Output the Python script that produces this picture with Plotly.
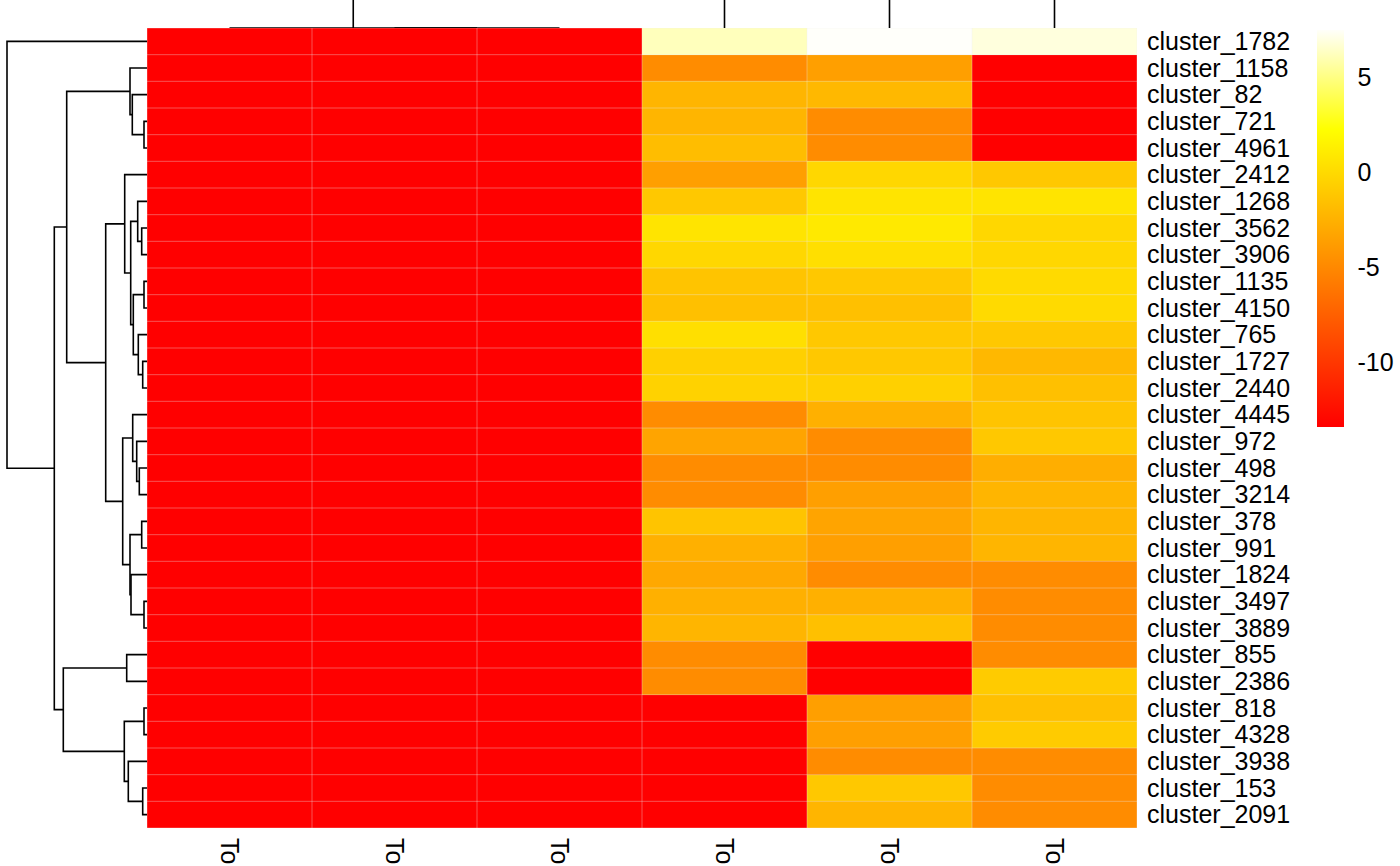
import plotly.graph_objects as go

# ---------------- data ----------------
row_labels = ["cluster_1782", "cluster_1158", "cluster_82", "cluster_721", "cluster_4961",
              "cluster_2412", "cluster_1268", "cluster_3562", "cluster_3906", "cluster_1135",
              "cluster_4150", "cluster_765", "cluster_1727", "cluster_2440", "cluster_4445",
              "cluster_972", "cluster_498", "cluster_3214", "cluster_378", "cluster_991",
              "cluster_1824", "cluster_3497", "cluster_3889", "cluster_855", "cluster_2386",
              "cluster_818", "cluster_4328", "cluster_3938", "cluster_153", "cluster_2091"]
col_labels = ["To", "To", "To", "To", "To", "To"]

LOW = -13.4
sample_1 = [LOW] * 30
sample_2 = [LOW] * 30
sample_3 = [LOW] * 30
sample_4 = [6.2, -4.8, -2.3, -2.3, -1.8, -3.6, -1.1, 0.6, -0.2, -1.35,
            -1.6, 0.3, -0.6, -0.5, -4.8, -3.3, -4.8, -4.8, -1.35, -2.6,
            -3.1, -2.6, -2.3, -4.8, -4.8, LOW, LOW, LOW, LOW, LOW]
sample_5 = [7.5, -3.6, -2.1, -4.8, -4.8, -0.2, 0.6, 0.9, 0.3, -1.1,
            -1.6, -1.1, -1.1, -0.6, -2.6, -4.8, -4.8, -3.6, -3.3, -3.6,
            -4.8, -2.6, -1.6, LOW, LOW, -3.6, -3.6, -4.8, -1.1, -2.3]
sample_6 = [6.9, LOW, LOW, LOW, LOW, -1.1, 0.6, -0.2, -0.2, 0.0,
            0.0, -1.1, -2.1, -1.6, -1.35, -1.1, -2.7, -2.3, -2.3, -2.3,
            -4.8, -4.8, -4.8, -4.8, -0.9, -1.6, -0.9, -4.8, -4.8, -4.8]
samples = [sample_1, sample_2, sample_3, sample_4, sample_5, sample_6]

legend_ticks = [-10, -5, 0, 5]
legend_tick_text = ["-10", "-5", "0", "5"]
z_min, z_max = -13.4, 7.5

# row tree: (child_a, child_b, height); leaves 0..29 in display order, merge k -> 30+k
row_merges = [(3, 4, 3.0), (2, 30, 14.7), (1, 31, 17.0), (7, 8, 5.3), (6, 33, 9.3),
              (9, 10, 3.0), (12, 13, 4.3), (11, 36, 8.7), (35, 37, 13.7), (34, 38, 16.3),
              (5, 39, 22.3), (16, 17, 7.7), (15, 41, 10.3), (14, 42, 14.3), (18, 19, 5.3),
              (21, 22, 3.0), (20, 45, 16.0), (44, 46, 17.0), (43, 47, 24.3), (40, 48, 41.3),
              (32, 49, 80.3), (23, 24, 20.3), (25, 26, 3.0), (28, 29, 4.3), (27, 53, 18.7),
              (52, 54, 22.7), (51, 55, 83.7), (50, 56, 92.7), (0, 57, 140.0)]
# column tree: leaves 0..5, merge k -> 6+k
col_merges = [(1, 2, 0.0), (0, 6, 0.0), (4, 5, 20.0), (3, 8, 30.0), (7, 9, 60.0)]


def tree_segments(merges, n_leaves):
    pos = {i: float(i) for i in range(n_leaves)}
    hgt = {i: 0.0 for i in range(n_leaves)}
    p_list, h_list = [], []
    for k, (a, b, h) in enumerate(merges):
        node = n_leaves + k
        p_list += [pos[a], pos[a], pos[b], pos[b], None]
        h_list += [hgt[a], h, h, hgt[b], None]
        pos[node] = (pos[a] + pos[b]) / 2
        hgt[node] = h
    return p_list, h_list


n_rows, n_cols = len(row_labels), len(col_labels)
z = [[samples[c][r] for c in range(n_cols)] for r in range(n_rows)]

# ---------------- layout geometry ----------------
W, H = 1400, 866
hm_left, hm_right, hm_top, hm_bottom = 147, 1137, 28, 828
fx = lambda px: px / W
fy = lambda py: 1 - py / H

colorscale = [[0.0, "rgb(255,0,0)"], [0.75, "rgb(255,255,0)"], [1.0, "rgb(255,255,250)"]]

fig = go.Figure()

fig.add_trace(go.Heatmap(
    z=z, x=list(range(n_cols)), y=list(range(n_rows)),
    colorscale=colorscale, zmin=z_min, zmax=z_max, xaxis="x", yaxis="y",
    hoverinfo="skip",
    colorbar=dict(
        x=fx(1317), xanchor="left", xpad=0, y=fy(30), yanchor="top", ypad=0,
        len=397, lenmode="pixels", thickness=27, thicknessmode="pixels",
        outlinewidth=0, tickvals=legend_ticks, ticktext=legend_tick_text,
        ticks="outside", ticklen=9, tickcolor="rgba(0,0,0,0)",
        tickfont=dict(family="Liberation Sans, Arial, sans-serif", size=25, color="black"),
    ),
))

# cell borders
gx, gy = [], []
for c in range(n_cols + 1):
    gx += [c - 0.5, c - 0.5, None]
    gy += [-0.5, n_rows - 0.5, None]
for r in range(n_rows + 1):
    gx += [-0.5, n_cols - 0.5, None]
    gy += [r - 0.5, r - 0.5, None]
fig.add_trace(go.Scatter(x=gx, y=gy, mode="lines", xaxis="x", yaxis="y",
                         line=dict(color="rgba(235,235,235,0.35)", width=1),
                         hoverinfo="skip", showlegend=False))

# row dendrogram
rp, rh = tree_segments(row_merges, n_rows)
fig.add_trace(go.Scatter(x=rh, y=rp, mode="lines", xaxis="x2", yaxis="y2",
                         line=dict(color="black", width=1.6),
                         hoverinfo="skip", showlegend=False))

# column dendrogram
cp, ch = tree_segments(col_merges, n_cols)
fig.add_trace(go.Scatter(x=cp, y=ch, mode="lines", xaxis="x3", yaxis="y3",
                         line=dict(color="black", width=1.6),
                         hoverinfo="skip", showlegend=False))

font = dict(family="Liberation Sans, Arial, sans-serif", size=25, color="black")
hidden = dict(showgrid=False, zeroline=False, showticklabels=False, ticks="", showline=False)

fig.update_layout(
    width=W, height=H, margin=dict(l=0, r=0, t=0, b=0, pad=0),
    paper_bgcolor="white", plot_bgcolor="white", showlegend=False,
    font=font,
    xaxis=dict(domain=[fx(hm_left), fx(hm_right)], range=[-0.5, n_cols - 0.5],
               tickvals=list(range(n_cols)), ticktext=col_labels, tickangle=90,
               ticks="", showgrid=False, zeroline=False, showline=False,
               ticklabelstandoff=9, tickfont=font, anchor="y"),
    yaxis=dict(domain=[fy(hm_bottom), fy(hm_top)], range=[n_rows - 0.5, -0.5],
               tickvals=list(range(n_rows)), ticktext=row_labels, side="right",
               ticks="", showgrid=False, zeroline=False, showline=False,
               ticklabelstandoff=9, tickfont=font, anchor="x"),
    xaxis2=dict(domain=[0, fx(hm_left)], range=[147, 0], anchor="y2", **hidden),
    yaxis2=dict(domain=[fy(hm_bottom), fy(hm_top)], range=[n_rows - 0.5, -0.5],
                anchor="x2", **hidden),
    xaxis3=dict(domain=[fx(hm_left), fx(hm_right)], range=[-0.5, n_cols - 0.5],
                anchor="y3", **hidden),
    yaxis3=dict(domain=[fy(hm_top), 1], range=[0, 10], anchor="x3", **hidden),
)

fig.write_html("out.html")
